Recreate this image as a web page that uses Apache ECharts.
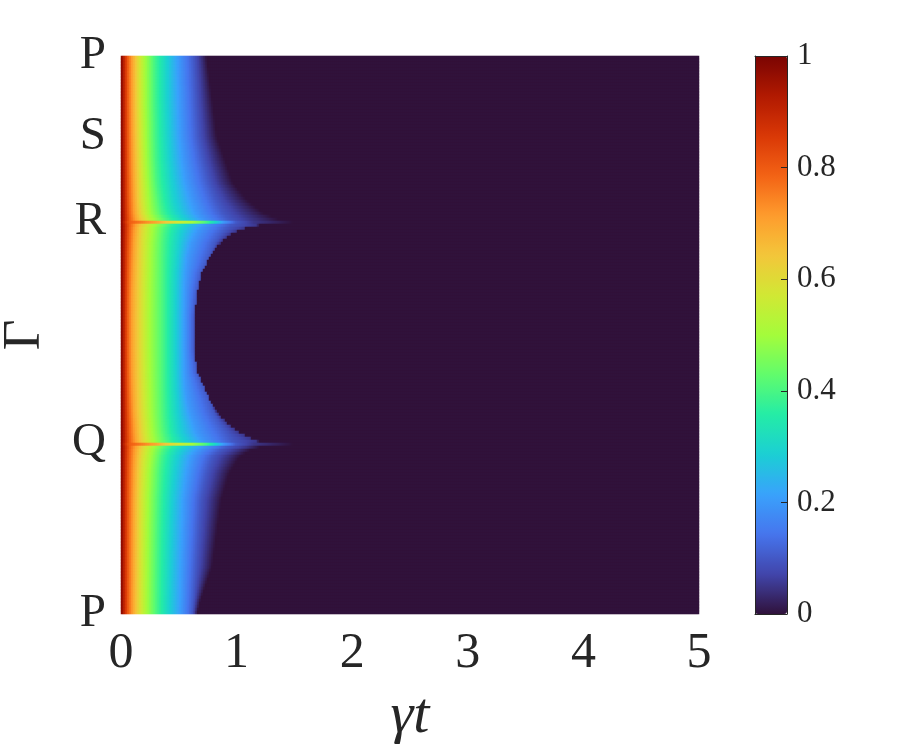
<!DOCTYPE html>
<html>
<head>
<meta charset="utf-8">
<script src="https://cdn.jsdelivr.net/npm/echarts@6/dist/echarts.min.js"></script>
<style>html,body{margin:0;padding:0;background:#fff}#chart{width:900px;height:750px}</style>
</head>
<body>
<div id="chart"></div>
<script>
// ---------- data ----------
const xTickValues = [0, 1, 2, 3, 4, 5];
const gammaTickPos = [0, 0.145, 0.2975, 0.6935, 1];      // normalized path position (top = 0)
const gammaTickLabels = ['P', 'S', 'R', 'Q', 'P'];
const turbo = ['#30123b','#4145ab','#4675ed','#39a2fc','#1bcfd4','#24eca6','#61fc6c',
               '#a4fc3b','#d1e834','#f3c63a','#fe9b2d','#f36315','#d93806','#b11901','#7a0402'];

// value levels; each key row lists the time gamma*t at which the value falls to each level
const levels = [0.9, 0.8, 0.7, 0.6, 0.5, 0.4, 0.3, 0.2, 0.1, 0.05, 0];
// path position of each key row (0 = top P, 1 = bottom P)
const keyRowPos = [0, 0.0789, 0.1452, 0.1864, 0.2276, 0.2581, 0.2814, 0.2930, 0.2984, 0.3038,
  0.3091, 0.3172, 0.3351, 0.3602, 0.3889, 0.4247, 0.4677, 0.5269, 0.5681, 0.5986, 0.6165,
  0.6398, 0.6577, 0.6756, 0.6909, 0.6962, 0.7016, 0.7070, 0.7186, 0.7473, 0.7957, 0.8548,
  0.9158, 0.9749, 1];
const keyRowTimes = [
  [0.03,0.06,0.10,0.15,0.21,0.29,0.39,0.50,0.63,0.69,0.74],
  [0.03,0.06,0.10,0.15,0.21,0.29,0.39,0.51,0.65,0.72,0.79],
  [0.03,0.062,0.102,0.155,0.215,0.295,0.40,0.52,0.67,0.75,0.83],
  [0.031,0.063,0.105,0.16,0.22,0.30,0.41,0.54,0.71,0.80,0.90],
  [0.032,0.065,0.11,0.165,0.23,0.31,0.43,0.57,0.76,0.86,0.97],
  [0.033,0.067,0.115,0.17,0.24,0.33,0.45,0.61,0.82,0.95,1.09],
  [0.034,0.07,0.12,0.18,0.25,0.35,0.48,0.65,0.88,1.05,1.23],
  [0.035,0.075,0.13,0.20,0.28,0.39,0.53,0.70,0.93,1.12,1.36],
  [0.03,0.07,0.30,0.45,0.62,0.74,0.82,0.89,1.00,1.15,1.49],
  [0.035,0.075,0.13,0.20,0.29,0.40,0.54,0.71,0.95,1.18,1.19],
  [0.035,0.073,0.125,0.19,0.275,0.385,0.52,0.68,0.92,1.08,1.08],
  [0.034,0.071,0.12,0.185,0.27,0.375,0.50,0.65,0.88,0.97,0.97],
  [0.033,0.068,0.115,0.18,0.262,0.368,0.49,0.61,0.82,0.86,0.86],
  [0.032,0.065,0.11,0.178,0.258,0.365,0.48,0.58,0.77,0.77,0.77],
  [0.031,0.062,0.105,0.175,0.255,0.365,0.47,0.565,0.70,0.70,0.70],
  [0.03,0.06,0.10,0.172,0.252,0.365,0.467,0.555,0.66,0.66,0.66],
  [0.03,0.058,0.098,0.17,0.25,0.365,0.465,0.554,0.635,0.635,0.635],
  [0.03,0.058,0.098,0.17,0.25,0.365,0.465,0.554,0.635,0.635,0.635],
  [0.03,0.06,0.10,0.172,0.252,0.365,0.467,0.555,0.665,0.665,0.665],
  [0.031,0.062,0.104,0.175,0.255,0.365,0.47,0.565,0.73,0.73,0.73],
  [0.032,0.064,0.107,0.177,0.257,0.366,0.475,0.575,0.77,0.77,0.77],
  [0.033,0.067,0.112,0.18,0.26,0.368,0.48,0.60,0.81,0.83,0.83],
  [0.034,0.07,0.118,0.185,0.265,0.372,0.49,0.63,0.86,0.92,0.92],
  [0.035,0.072,0.123,0.19,0.272,0.38,0.50,0.66,0.92,1.03,1.03],
  [0.035,0.075,0.13,0.20,0.285,0.40,0.54,0.71,0.96,1.18,1.19],
  [0.03,0.07,0.30,0.45,0.62,0.74,0.82,0.89,1.00,1.15,1.49],
  [0.035,0.075,0.13,0.20,0.285,0.39,0.53,0.70,0.92,1.08,1.20],
  [0.034,0.072,0.125,0.19,0.27,0.37,0.50,0.66,0.86,1.00,1.12],
  [0.033,0.07,0.12,0.18,0.26,0.35,0.47,0.61,0.79,0.91,1.03],
  [0.032,0.067,0.115,0.172,0.245,0.335,0.45,0.58,0.74,0.84,0.94],
  [0.031,0.065,0.11,0.165,0.235,0.325,0.43,0.55,0.69,0.78,0.87],
  [0.031,0.064,0.108,0.162,0.23,0.318,0.42,0.54,0.67,0.75,0.83],
  [0.03,0.063,0.106,0.16,0.227,0.313,0.415,0.53,0.65,0.72,0.79],
  [0.03,0.062,0.105,0.158,0.225,0.31,0.41,0.525,0.63,0.66,0.69],
  [0.03,0.062,0.105,0.158,0.225,0.31,0.41,0.52,0.62,0.64,0.66]
];

// ---------- build heatmap table ----------
const T_MAX = 5, N_COLS = 289, N_ROWS = 186;
function rowTimes(s) {
  let k = 0;
  while (k < keyRowPos.length - 2 && s > keyRowPos[k + 1]) k++;
  const a = keyRowPos[k], b = keyRowPos[k + 1];
  const w = Math.min(1, Math.max(0, (s - a) / (b - a)));
  return keyRowTimes[k].map((v, i) => v + (keyRowTimes[k + 1][i] - v) * w);
}
function valueAt(times, t) {
  let tPrev = 0, lPrev = 1;
  for (let i = 0; i < times.length; i++) {
    if (t < times[i]) return lPrev + (levels[i] - lPrev) * (t - tPrev) / (times[i] - tPrev);
    tPrev = times[i]; lPrev = levels[i];
  }
  return 0;
}
const cells = [];
const colCats = [], rowCats = [];
for (let c = 0; c < N_COLS; c++) colCats.push(c);
for (let r = 0; r < N_ROWS; r++) rowCats.push(r);
for (let r = 0; r < N_ROWS; r++) {
  const times = rowTimes((r + 0.5) / N_ROWS);
  for (let c = 0; c < N_COLS; c++) {
    const t = (c + 0.5) * T_MAX / N_COLS;
    cells.push([c, r, valueAt(times, t)]);
  }
}

// ---------- chart ----------
const FONT = 'Liberation Serif';
const INK = '#262626';
const frameLine = {show: true, onZero: false, lineStyle: {color: INK, width: 1}};
const chart = echarts.init(document.getElementById('chart'), null, {renderer: 'canvas'});
chart.setOption({
  animation: false,
  backgroundColor: '#ffffff',
  grid: [
    {left: 121, right: 201, top: 56, bottom: 136, show: true, borderWidth: 0,
     backgroundColor: turbo[0], outerBoundsMode: 'none', containLabel: false},
    {left: 755, width: 32, top: 56, height: 558, show: false,
     outerBoundsMode: 'none', containLabel: false}
  ],
  xAxis: [
    {type: 'category', gridIndex: 0, data: colCats, show: false},
    {type: 'value', gridIndex: 0, min: 0, max: T_MAX, interval: 1, position: 'bottom',
     axisLine: {show: false}, axisTick: {show: false}, splitLine: {show: false},
     axisLabel: {fontFamily: FONT, fontSize: 50, color: INK, margin: 15,
                 customValues: xTickValues, showMinLabel: true, showMaxLabel: true},
     name: 'γt', nameLocation: 'middle', nameGap: 74,
     nameTextStyle: {fontFamily: FONT, fontStyle: 'italic', fontSize: 58, color: INK}},
    {type: 'value', gridIndex: 1, min: 0, max: 1, position: 'bottom', z: 12,
     axisLine: frameLine, axisTick: {show: false}, axisLabel: {show: false}, splitLine: {show: false}},
    {type: 'value', gridIndex: 1, min: 0, max: 1, position: 'top', z: 12,
     axisLine: frameLine, axisTick: {show: false}, axisLabel: {show: false}, splitLine: {show: false}}
  ],
  yAxis: [
    {type: 'category', gridIndex: 0, data: rowCats, inverse: true, show: false},
    {type: 'value', gridIndex: 0, min: 0, max: 1, inverse: true, position: 'left',
     axisLine: {show: false}, axisTick: {show: false}, splitLine: {show: false},
     axisLabel: {fontFamily: FONT, fontSize: 47, color: INK, margin: 15,
                 padding: [0, 0, 8, 0],
                 customValues: gammaTickPos, showMinLabel: true, showMaxLabel: true,
                 formatter: function (v) {
                   let best = 0;
                   for (let i = 1; i < gammaTickPos.length; i++)
                     if (Math.abs(gammaTickPos[i] - v) < Math.abs(gammaTickPos[best] - v)) best = i;
                   return gammaTickLabels[best];
                 }},
     name: 'Γ', nameLocation: 'middle', nameGap: 69, nameRotate: 90,
     nameTextStyle: {fontFamily: FONT, fontSize: 53, color: INK}},
    {type: 'value', gridIndex: 1, min: 0, max: 1, interval: 0.2, position: 'right', z: 12,
     axisLine: frameLine, splitLine: {show: false},
     axisTick: {show: true, inside: true, length: 6, lineStyle: {color: INK, width: 1}},
     axisLabel: {fontFamily: FONT, fontSize: 31, color: INK, margin: 10,
                 showMinLabel: true, showMaxLabel: true}},
    {type: 'value', gridIndex: 1, min: 0, max: 1, position: 'left', z: 12,
     axisLine: frameLine, axisTick: {show: false}, axisLabel: {show: false}, splitLine: {show: false}}
  ],
  visualMap: {
    type: 'continuous', min: 0, max: 1, seriesIndex: 0, calculable: false,
    orient: 'vertical', left: 755, top: 56, itemWidth: 32, itemHeight: 558,
    padding: 0, text: null, hoverLink: false, z: 1,
    inRange: {color: turbo}
  },
  series: [{
    type: 'heatmap', xAxisIndex: 0, yAxisIndex: 0, data: cells,
    progressive: 0, silent: true, emphasis: {disabled: true},
    itemStyle: {borderWidth: 0}
  }]
});
</script>
</body>
</html>
